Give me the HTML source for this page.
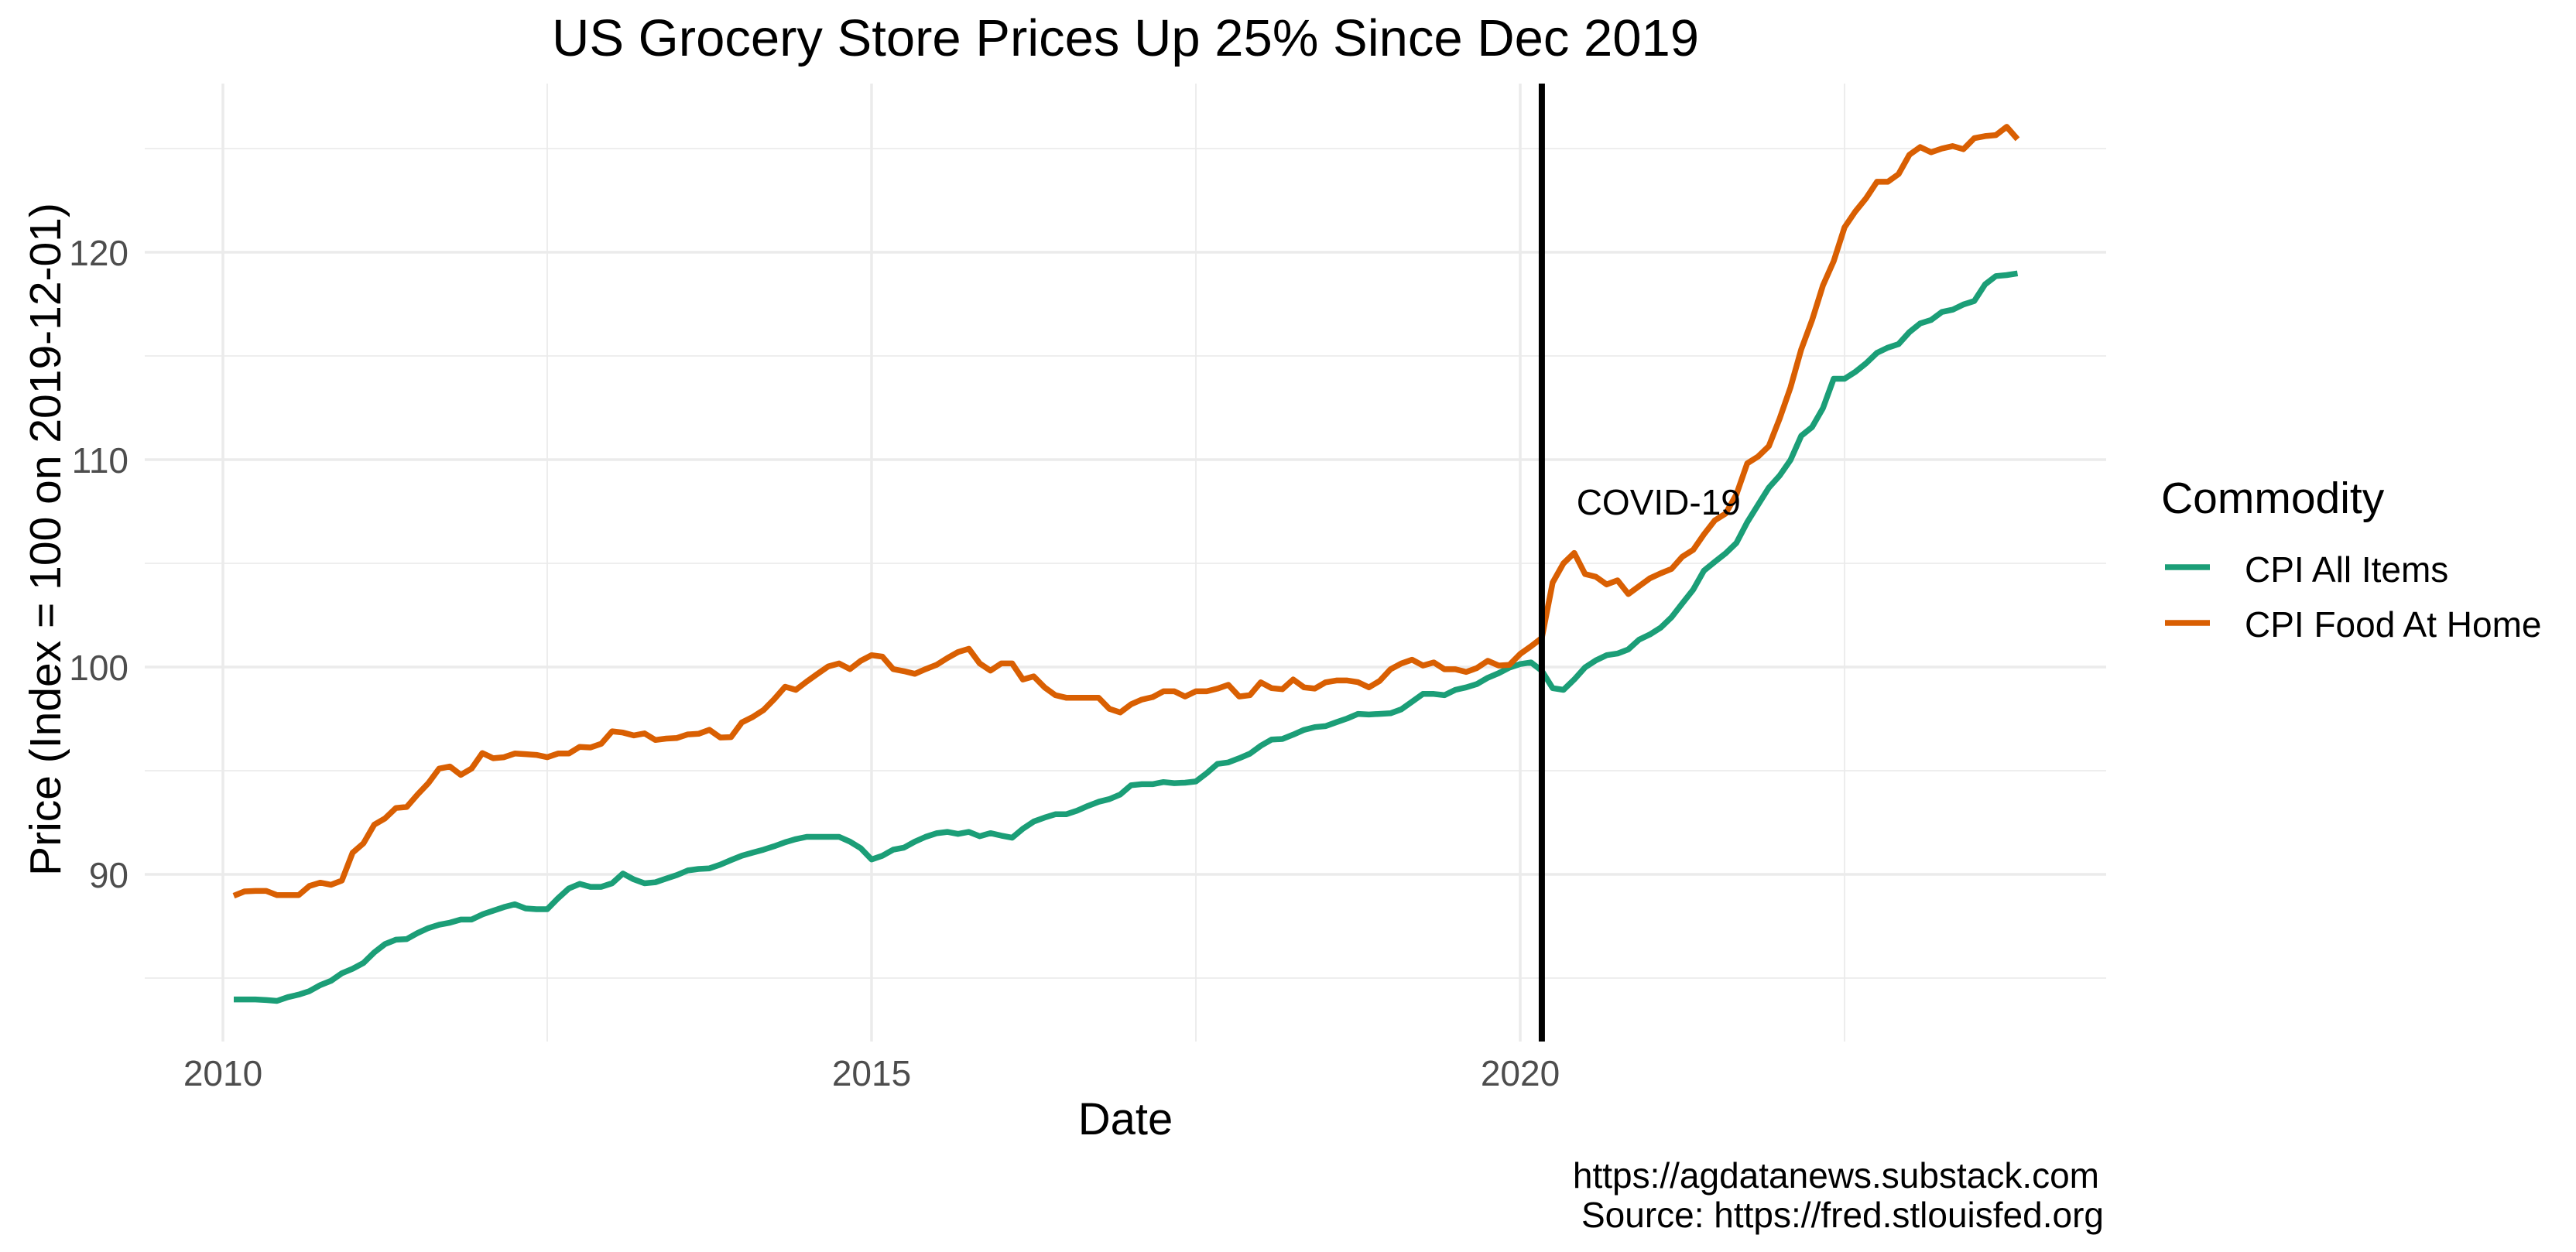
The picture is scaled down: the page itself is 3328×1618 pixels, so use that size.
<!DOCTYPE html>
<html><head><meta charset="utf-8"><style>
html,body{margin:0;padding:0;background:#fff;}
svg{display:block;font-family:"Liberation Sans",Arial,sans-serif;}
</style></head><body>
<svg id="chart" width="3328" height="1618" viewBox="0 0 3328 1618" xmlns="http://www.w3.org/2000/svg">
<rect x="0" y="0" width="3328" height="1618" fill="#fff"/>
<g id="grid"></g>
<g id="series"></g>
<g id="axes"></g>
<text x="1454" y="72" text-anchor="middle" font-size="67" fill="#000">US Grocery Store Prices Up 25% Since Dec 2019</text>
<text x="1454" y="1466" text-anchor="middle" font-size="58" fill="#000">Date</text>
<text transform="translate(78,697) rotate(-90)" text-anchor="middle" font-size="57" fill="#000">Price (Index = 100 on 2019-12-01)</text>
<text x="2712" y="1535" text-anchor="end" font-size="46" fill="#000">https://agdatanews.substack.com </text>
<text x="2718" y="1586" text-anchor="end" font-size="46" fill="#000">Source: https://fred.stlouisfed.org</text>
<g>
<text x="2792" y="663" font-size="57" fill="#000">Commodity</text>
<line x1="2797" y1="733" x2="2855" y2="733" stroke="#1B9E77" stroke-width="7.5"/>
<text x="2900" y="752" font-size="46" fill="#000">CPI All Items</text>
<line x1="2797" y1="805" x2="2855" y2="805" stroke="#D95F02" stroke-width="7.5"/>
<text x="2900" y="823" font-size="46" fill="#000">CPI Food At Home</text>
</g>
</svg>
<script>
const startYear = 2010;
const startMonthIndex = 1;
const foodAtHome = [
88.97,89.18,89.2,89.2,89.0,89.0,89.0,89.44,89.6,89.5,89.7,
91.05,91.5,92.4,92.7,93.2,93.25,93.85,94.4,95.1,95.2,94.8,95.1,
95.85,95.6,95.65,95.83,95.8,95.76,95.65,95.83,95.83,96.15,96.12,96.3,
96.9,96.84,96.7,96.8,96.48,96.55,96.58,96.75,96.78,96.97,96.6,96.62,
97.33,97.59,97.92,98.45,99.05,98.9,99.3,99.67,100.03,100.17,99.9,100.3,
100.57,100.5,99.9,99.8,99.67,99.9,100.1,100.43,100.72,100.88,100.17,99.83,
100.17,100.17,99.4,99.55,99.02,98.64,98.52,98.52,98.52,98.52,97.98,97.81,
98.2,98.43,98.55,98.83,98.83,98.58,98.83,98.83,98.96,99.14,98.58,98.64,
99.26,98.98,98.93,99.4,99.02,98.96,99.26,99.35,99.35,99.27,99.02,99.33,
99.89,100.17,100.35,100.07,100.22,99.89,99.89,99.76,99.95,100.3,100.07,100.1,
100.63,101.0,101.4,104.07,105.0,105.5,104.48,104.35,103.98,104.18,103.52,103.9,
104.28,104.52,104.73,105.32,105.65,106.4,107.07,107.4,108.32,109.82,110.15,110.65,
111.98,113.48,115.32,116.73,118.4,119.57,121.2,121.97,122.61,123.4,123.4,123.77,
124.7,125.07,124.82,125.0,125.12,124.97,125.5,125.6,125.65,126.05,125.45];
const allItems = [
83.97,83.97,83.97,83.94,83.9,84.08,84.2,84.37,84.66,84.87,85.23,
85.45,85.73,86.24,86.64,86.85,86.88,87.17,87.41,87.57,87.67,87.82,87.82,
88.07,88.25,88.42,88.56,88.36,88.32,88.32,88.85,89.32,89.54,89.4,89.4,
89.57,90.04,89.76,89.57,89.62,89.8,89.97,90.19,90.26,90.29,90.47,90.69,
90.9,91.05,91.19,91.36,91.55,91.7,91.81,91.81,91.81,91.81,91.58,91.26,
90.72,90.9,91.19,91.29,91.58,91.81,91.98,92.05,91.95,92.05,91.84,91.99,
91.87,91.77,92.2,92.55,92.74,92.9,92.9,93.07,93.3,93.5,93.63,93.85,
94.3,94.35,94.35,94.45,94.4,94.42,94.48,94.88,95.33,95.4,95.6,95.82,
96.2,96.5,96.53,96.74,96.97,97.1,97.15,97.34,97.52,97.74,97.71,97.74,
97.77,97.96,98.33,98.7,98.7,98.64,98.9,99.02,99.18,99.48,99.7,99.97,
100.14,100.22,99.82,98.98,98.9,99.4,99.98,100.32,100.57,100.65,100.85,101.32,
101.57,101.9,102.4,103.07,103.73,104.65,105.07,105.48,105.98,106.98,107.82,108.65,
109.23,109.98,111.15,111.57,112.48,113.9,113.9,114.23,114.65,115.15,115.4,115.57,
116.15,116.57,116.73,117.12,117.23,117.48,117.65,118.45,118.85,118.9,118.98];
const xMajorTicks = [2010, 2015, 2020];
const xMinorTicks = [2012.5, 2017.5, 2022.5];
const yMajorTicks = [90, 100, 110, 120];
const yMinorTicks = [85, 95, 105, 115, 125];
const covidDate = 2020 + 2/12;
const covidLabel = "COVID-19";
const covidLabelPos = [2020 + 12.8/12, 107.35];

const NS = "http://www.w3.org/2000/svg";
const panel = {left:187, right:2721, top:108, bottom:1346};
function xScale(t){ return 288 + (t - 2010) * 167.6; }
function yScale(v){ return 862 - (v - 100) * 26.8; }
function monthToT(i){ return startYear + (startMonthIndex + i) / 12; }
function mk(tag, attrs, parent){
  const el = document.createElementNS(NS, tag);
  for (const k in attrs) el.setAttribute(k, attrs[k]);
  parent.appendChild(el);
  return el;
}
const grid = document.getElementById('grid');
const series = document.getElementById('series');
const axes = document.getElementById('axes');

yMinorTicks.forEach(v => {
  const l = mk('line', {x1:panel.left, x2:panel.right, y1:yScale(v), y2:yScale(v), stroke:'#EBEBEB', 'stroke-width':1.8}, grid);
  
  
});
xMinorTicks.forEach(t => {
  const l = mk('line', {x1:xScale(t), x2:xScale(t), y1:panel.top, y2:panel.bottom, stroke:'#EBEBEB', 'stroke-width':1.8}, grid);
  
  
});
yMajorTicks.forEach(v => {
  const l = mk('line', {x1:panel.left, x2:panel.right, y1:yScale(v), y2:yScale(v), stroke:'#EBEBEB', 'stroke-width':3.5}, grid);
  
  
  const tx = mk('text', {x:166, y:yScale(v)+17, 'text-anchor':'end', 'font-size':46, fill:'#4D4D4D'}, axes);
  tx.textContent = String(v);
  
  
});
xMajorTicks.forEach(t => {
  const l = mk('line', {x1:xScale(t), x2:xScale(t), y1:panel.top, y2:panel.bottom, stroke:'#EBEBEB', 'stroke-width':3.5}, grid);
  
  
  const tx = mk('text', {x:xScale(t), y:1403, 'text-anchor':'middle', 'font-size':46, fill:'#4D4D4D'}, axes);
  tx.textContent = String(t);
  
  
});

function drawSeries(vals, color, name){
  const pts = vals.map((v,i) => xScale(monthToT(i)).toFixed(1) + ',' + yScale(v).toFixed(1)).join(' ');
  const p = mk('polyline', {points:pts, fill:'none', stroke:color, 'stroke-width':7.5, 'stroke-linejoin':'round'}, series);
  
  
}
drawSeries(allItems, '#1B9E77', 'line-cpi-all-items');
drawSeries(foodAtHome, '#D95F02', 'line-cpi-food-at-home');

const vl = mk('line', {x1:xScale(covidDate), x2:xScale(covidDate), y1:panel.top, y2:panel.bottom, stroke:'#000', 'stroke-width':8}, series);


const ct = mk('text', {x:xScale(covidLabelPos[0]), y:yScale(covidLabelPos[1]), 'text-anchor':'middle', 'font-size':46, fill:'#000'}, series);
ct.textContent = covidLabel;


</script>
</body></html>
